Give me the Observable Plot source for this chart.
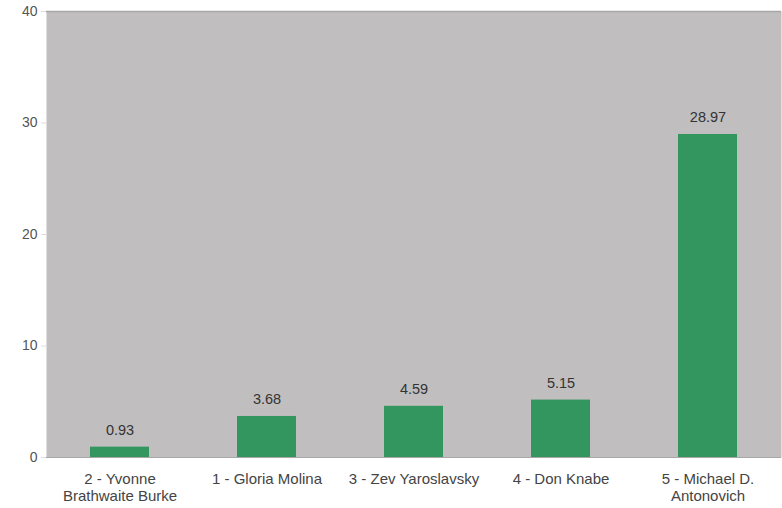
<!DOCTYPE html>
<html>
<head>
<meta charset="utf-8">
<script src="https://cdn.jsdelivr.net/npm/d3@7"></script>
<script src="https://cdn.jsdelivr.net/npm/@observablehq/plot@0.6"></script>
<style>
  body { margin: 0; background: #fff; }
  #chart { width: 782px; height: 508px; }
</style>
</head>
<body>
<div id="chart"></div>
<script>
const categories = [
  "2 - Yvonne\nBrathwaite Burke",
  "1 - Gloria Molina",
  "3 - Zev Yaroslavsky",
  "4 - Don Knabe",
  "5 - Michael D.\nAntonovich"
];
const values = [0.93, 3.68, 4.59, 5.15, 28.97];
const valueLabels = ["0.93", "3.68", "4.59", "5.15", "28.97"];
const yTicks = [0, 10, 20, 30, 40];

const data = categories.map((c, i) => ({ name: c, value: values[i], label: valueLabels[i] }));

const chart = Plot.plot({
  width: 782,
  height: 508,
  marginLeft: 46,
  marginRight: 1,
  marginTop: 11,
  marginBottom: 51,
  style: { fontFamily: "'Liberation Sans', Arial, sans-serif", fontSize: "13px", color: "#444", background: "#fff" },
  x: { domain: categories, paddingInner: 0.6, paddingOuter: 0.3, label: null, tickSize: 0 },
  y: { domain: [0, 40], ticks: yTicks, label: null, tickSize: 5, tickPadding: 4 },
  marks: [
    Plot.frame({ fill: "#c0bebf", stroke: null }),
    Plot.ruleY([40], { stroke: "#a8a6a7", strokeWidth: 1.5 }),
    Plot.ruleX([0], { frameAnchor: "left", stroke: "#a8a6a7" }),
    Plot.barY(data, { x: "name", y: "value", fill: "#33965f" }),
    Plot.ruleY([0], { stroke: "#a8a6a7" }),
    Plot.text(data, { x: "name", y: "value", text: "label", dy: -17, fill: "#333", fontSize: 14.5 }),
    Plot.axisY({ ticks: yTicks, tickSize: 5, stroke: "#ddd", fill: "#555", fontSize: 14 }),
    Plot.axisX({ tickSize: 0, tickPadding: 14, fill: "#444", fontSize: 15, lineHeight: 1.15 })
  ]
});
document.getElementById("chart").appendChild(chart);
</script>
</body>
</html>
